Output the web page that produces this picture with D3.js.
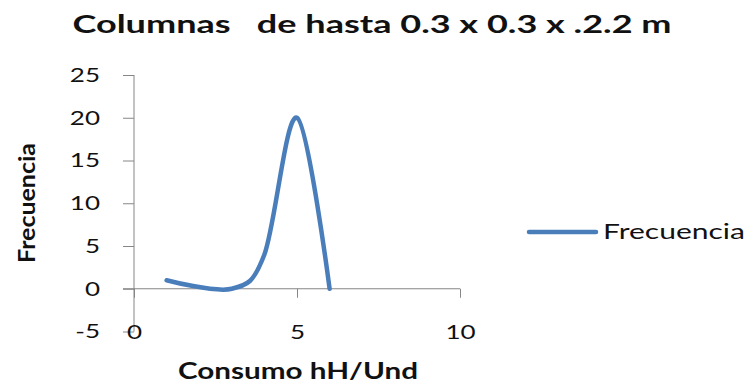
<!DOCTYPE html>
<html>
<head>
<meta charset="utf-8">
<script src="https://cdn.jsdelivr.net/npm/d3@7"></script>
<style>
  html, body { margin: 0; padding: 0; background: #fff; }
  svg { display: block; }
  text { font-family: Lato, "Open Sans", sans-serif; fill: #111; }
</style>
</head>
<body>
<svg id="chart" width="750" height="385"></svg>
<script>
// Series: consumption (hH/Und) vs. frequency
const consumo = [1, 3, 4, 5, 6];
const frecuencia = [1, 0, 4, 20, 0];
const xTicks = [0, 5, 10];
const yTicks = [-5, 0, 5, 10, 15, 20, 25];
const titleText = "Columnas\u00a0\u00a0 de hasta 0.3 x 0.3 x .2.2 m";
const xLabel = "Consumo hH/Und";
const yLabel = "Frecuencia";
const seriesName = "Frecuencia";

const svg = d3.select("#chart");
const blue = "#4A7EBB";
const axisGray = "#868686";
const plain = d => String(d); // hyphen-minus, as typed

const x = d3.scaleLinear().domain([0, 10]).range([134, 460]);
const y = d3.scaleLinear().domain([-5, 25]).range([331.5, 75]);

// Stretch a text node horizontally by a factor (glyphs appear wide)
function widen(sel, k) {
  sel.each(function () {
    const w = this.getComputedTextLength();
    d3.select(this).attr("textLength", w * k).attr("lengthAdjust", "spacingAndGlyphs");
  });
}

// Title
svg.append("text")
  .attr("x", 372).attr("y", 33)
  .attr("text-anchor", "middle")
  .attr("font-size", 25).attr("font-weight", "bold")
  .text(titleText)
  .attr("textLength", 599).attr("lengthAdjust", "spacingAndGlyphs");

// Y axis (line + outward ticks + labels)
const yAxis = svg.append("g")
  .attr("transform", `translate(${x(0)},0)`)
  .call(d3.axisLeft(y).tickValues(yTicks).tickSize(11).tickPadding(23).tickFormat(plain));
yAxis.select(".domain").attr("stroke", axisGray).attr("d", `M0,${y(25)}V${y(-5)}`);
yAxis.selectAll(".tick line").attr("stroke", axisGray);
yAxis.selectAll(".tick text")
  .attr("font-size", 20).attr("font-family", "Lato, sans-serif").attr("fill", "#111")
  .call(widen, 1.3);

// X axis line at y = 0 with downward ticks
const xAxis = svg.append("g")
  .attr("transform", `translate(0,${y(0)})`)
  .call(d3.axisBottom(x).tickValues(xTicks).tickSize(9).tickFormat(""));
xAxis.select(".domain").attr("stroke", axisGray).attr("d", `M${x(0) - 11},0H${x(10)}`);
xAxis.selectAll(".tick line").attr("stroke", axisGray);

// X tick labels along the bottom of the plot
const xLab = svg.append("g")
  .attr("transform", `translate(0,${y(-5)})`)
  .call(d3.axisBottom(x).tickValues(xTicks).tickSize(0).tickPadding(0).tickFormat(plain));
xLab.select(".domain").remove();
xLab.selectAll(".tick text")
  .attr("font-size", 20).attr("font-family", "Lato, sans-serif").attr("fill", "#111")
  .attr("dy", "0.35em")
  .call(widen, 1.3);

// Data line, smoothed
const pts = consumo.map((c, i) => [c, frecuencia[i]]);
svg.append("path")
  .datum(pts)
  .attr("fill", "none")
  .attr("stroke", blue)
  .attr("stroke-width", 4.5)
  .attr("stroke-linecap", "round")
  .attr("stroke-linejoin", "round")
  .attr("d", d3.line().x(d => x(d[0])).y(d => y(d[1])).curve(d3.curveCardinal.tension(0)));

// Axis titles
svg.append("text")
  .attr("x", 298).attr("y", 379)
  .attr("text-anchor", "middle")
  .attr("font-size", 22).attr("font-weight", "bold")
  .text(xLabel)
  .attr("textLength", 240).attr("lengthAdjust", "spacingAndGlyphs");

svg.append("text")
  .attr("transform", "translate(35,203) rotate(-90)")
  .attr("text-anchor", "middle")
  .attr("font-size", 22).attr("font-weight", "bold")
  .text(yLabel)
  .attr("textLength", 120).attr("lengthAdjust", "spacingAndGlyphs");

// Legend
const legend = svg.append("g");
legend.append("line")
  .attr("x1", 529).attr("x2", 596)
  .attr("y1", 232).attr("y2", 232)
  .attr("stroke", blue).attr("stroke-width", 4.5).attr("stroke-linecap", "round");
legend.append("text")
  .attr("x", 603).attr("y", 239)
  .attr("font-size", 21)
  .text(seriesName)
  .attr("textLength", 142).attr("lengthAdjust", "spacingAndGlyphs");
</script>
</body>
</html>
